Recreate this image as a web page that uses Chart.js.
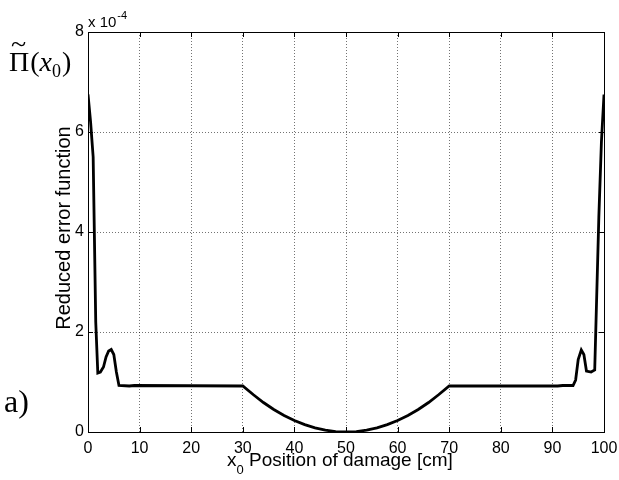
<!DOCTYPE html>
<html>
<head>
<meta charset="utf-8">
<script src="https://cdn.jsdelivr.net/npm/chart.js@4.4.1/dist/chart.umd.min.js"></script>
<style>
  body { margin: 0; background: #fff; }
  #wrap { width: 619px; height: 480px; }
</style>
</head>
<body>
<div id="wrap"><canvas id="errChart" width="619" height="480"></canvas></div>
<script>
// damage position [cm] and reduced error function (x 1e-4)
var positions = [0, 0.5, 1, 1.5, 1.9, 2.4, 3, 3.5, 4, 4.5, 5, 5.5, 6, 8, 9, 30,
  32, 34, 36, 38, 40, 42, 44, 46, 48, 50, 52, 54, 56, 58, 60, 62, 64, 66, 68, 70,
  91, 92, 94, 94.5, 95, 95.6, 96.1, 96.6, 97.5, 98.2, 99, 99.5, 100];
var errorValues = [6.75, 6.2, 5.5, 2.2, 1.18, 1.2, 1.3, 1.5, 1.62, 1.65, 1.55, 1.2, 0.93, 0.92, 0.93, 0.92,
  0.75, 0.59, 0.45, 0.33, 0.23, 0.147, 0.083, 0.037, 0.009, 0, 0.009, 0.037, 0.083, 0.147, 0.23, 0.33, 0.45, 0.59, 0.75, 0.92,
  0.92, 0.93, 0.93, 1.04, 1.45, 1.64, 1.55, 1.22, 1.2, 1.24, 4.3, 5.8, 6.75];
var xTicks = [0, 10, 20, 30, 40, 50, 60, 70, 80, 90, 100];
var yTicks = [0, 2, 4, 6, 8];

var points = [];
for (var i = 0; i < positions.length; i++) {
  points.push({ x: positions[i], y: errorValues[i] });
}

var SANS = "'Liberation Sans', Arial, sans-serif";
var SERIF = "'Liberation Serif', 'Times New Roman', serif";

// frame, inner ticks and the extra labels
var decor = {
  id: "decor",
  afterDraw: function (chart) {
    var ctx = chart.ctx;
    var a = chart.chartArea;
    var xs = chart.scales.x, ys = chart.scales.y;
    ctx.save();
    ctx.strokeStyle = "#000";
    ctx.lineWidth = 1;
    ctx.strokeRect(Math.round(a.left) + 0.5, Math.round(a.top) + 0.5,
      Math.round(a.right - a.left), Math.round(a.bottom - a.top));
    ctx.beginPath();
    xTicks.forEach(function (t) {
      var px = Math.round(xs.getPixelForValue(t)) + 0.5;
      ctx.moveTo(px, a.bottom); ctx.lineTo(px, a.bottom - 5);
      ctx.moveTo(px, a.top); ctx.lineTo(px, a.top + 5);
    });
    yTicks.forEach(function (t) {
      var py = Math.round(ys.getPixelForValue(t)) + 0.5;
      ctx.moveTo(a.left, py); ctx.lineTo(a.left + 5, py);
      ctx.moveTo(a.right, py); ctx.lineTo(a.right - 5, py);
    });
    ctx.stroke();

    ctx.fillStyle = "#000";
    ctx.textBaseline = "alphabetic";
    ctx.textAlign = "left";
    // exponent
    ctx.font = "15px " + SANS;
    ctx.fillText("x 10", 88, 27);
    var ew = ctx.measureText("x 10").width;
    ctx.font = "11px " + SANS;
    ctx.fillText("-4", 88 + ew + 1, 19);

    // x title
    ctx.font = "19px " + SANS;
    ctx.fillText("x", 227, 466);
    var xw = ctx.measureText("x").width;
    ctx.font = "13px " + SANS;
    ctx.fillText("0", 227 + xw, 474);
    var zw = ctx.measureText("0").width;
    ctx.font = "19px " + SANS;
    ctx.fillText(" Position of damage [cm]", 227 + xw + zw, 466);

    // y title
    ctx.save();
    ctx.translate(70, 228);
    ctx.rotate(-Math.PI / 2);
    ctx.textAlign = "center";
    ctx.font = "20px " + SANS;
    ctx.fillText("Reduced error function", 0, 0);
    ctx.restore();

    // symbol label: Pi with tilde, (x0)
    ctx.textAlign = "left";
    ctx.font = "28px " + SERIF;
    ctx.fillText("\u03A0", 9, 71);
    var pw = ctx.measureText("\u03A0").width;
    ctx.fillText("~", 11, 53);
    ctx.fillText("(", 9 + pw + 1, 71);
    var bw = ctx.measureText("(").width;
    ctx.font = "italic 28px " + SERIF;
    ctx.fillText("x", 10 + pw + bw, 71);
    var w2 = ctx.measureText("x").width;
    ctx.font = "18px " + SERIF;
    ctx.fillText("0", 10 + pw + bw + w2, 77);
    var w3 = ctx.measureText("0").width;
    ctx.font = "28px " + SERIF;
    ctx.fillText(")", 11 + pw + bw + w2 + w3, 71);

    // panel letter
    ctx.font = "32px " + SERIF;
    ctx.fillText("a)", 4, 412);
    ctx.restore();
  }
};

var ctx = document.getElementById("errChart").getContext("2d");
var myChart = new Chart(ctx, {
  type: "line",
  data: {
    datasets: [{
      label: "Reduced error function",
      data: points,
      borderColor: "#000",
      borderWidth: 2.8,
      pointRadius: 0,
      tension: 0,
      fill: false
    }]
  },
  options: {
    responsive: false,
    animation: false,
    layout: { padding: { left: 0, right: 15, top: 32, bottom: 0 } },
    plugins: { legend: { display: false }, tooltip: { enabled: false } },
    scales: {
      x: {
        type: "linear",
        min: 0,
        max: 100,
        afterBuildTicks: function (s) { s.ticks = xTicks.map(function (v) { return { value: v }; }); },
        afterFit: function (s) { s.height = 48; s.paddingLeft = 0; s.paddingRight = 0; },
        grid: { color: "rgba(0,0,0,0.55)", drawTicks: false },
        border: { display: false, dash: [1, 2] },
        ticks: { color: "#000", padding: 7, maxRotation: 0, font: { family: SANS, size: 16 } }
      },
      y: {
        min: 0,
        max: 8,
        afterBuildTicks: function (s) { s.ticks = yTicks.map(function (v) { return { value: v }; }); },
        afterFit: function (s) { s.width = 88; s.paddingTop = 0; s.paddingBottom = 0; },
        grid: { color: "rgba(0,0,0,0.55)", drawTicks: false },
        border: { display: false, dash: [1, 2] },
        ticks: { color: "#000", padding: 4, font: { family: SANS, size: 16 } }
      }
    }
  },
  plugins: [decor]
});
</script>
</body>
</html>
